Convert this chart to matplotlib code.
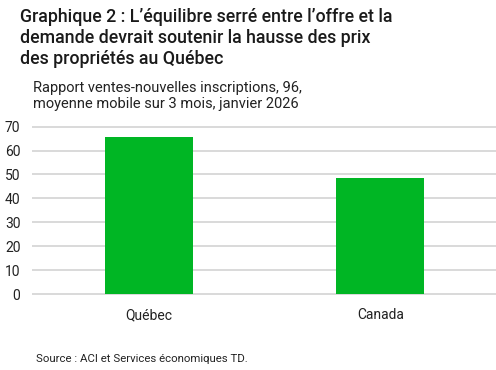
import matplotlib.pyplot as plt

categories = ["Québec", "Canada"]
values = [65.8, 48.6]
yticks = [0, 10, 20, 30, 40, 50, 60, 70]

plt.rcParams['font.family'] = ['Roboto', 'DejaVu Sans']

fig = plt.figure(figsize=(4.96, 3.70), dpi=100)
ax = fig.add_axes([0.0665, 0.2054, 0.9335, 0.4522])

ax.bar(range(len(categories)), values, width=0.38, color='#00B624', zorder=3)
ax.set_xlim(-0.5, 1.5)
ax.set_ylim(0, 70)
ax.set_yticks(yticks)
ax.set_xticks(range(len(categories)))
ax.set_xticklabels(categories)
ax.grid(axis='y', color='#d9d9d9', linewidth=1.4, zorder=0)
for gl in ax.get_ygridlines():
    gl.set_clip_on(False)
for s in ax.spines.values():
    s.set_visible(False)
ax.tick_params(axis='both', length=0, labelsize=10, colors='#222222')
ax.tick_params(axis='y', pad=9)
ax.tick_params(axis='x', pad=10)

fig.text(0.04, 0.978, "Graphique 2 : L’équilibre serré entre l’offre et la\n"
         "demande devrait soutenir la hausse des prix\n"
         "des propriétés au Québec",
         fontsize=12.8, fontweight='medium', va='top', ha='left',
         linespacing=1.2, color='#1a1a1a')
fig.text(0.0665, 0.782, "Rapport ventes-nouvelles inscriptions, 96,\n"
         "moyenne mobile sur 3 mois, janvier 2026",
         fontsize=10.5, va='top', ha='left', linespacing=1.25, color='#222222')
fig.text(0.072, 0.03, "Source : ACI et Services économiques TD.",
         fontsize=8.2, va='center', ha='left', color='#222222')

fig.savefig("out.png", dpi=100)
